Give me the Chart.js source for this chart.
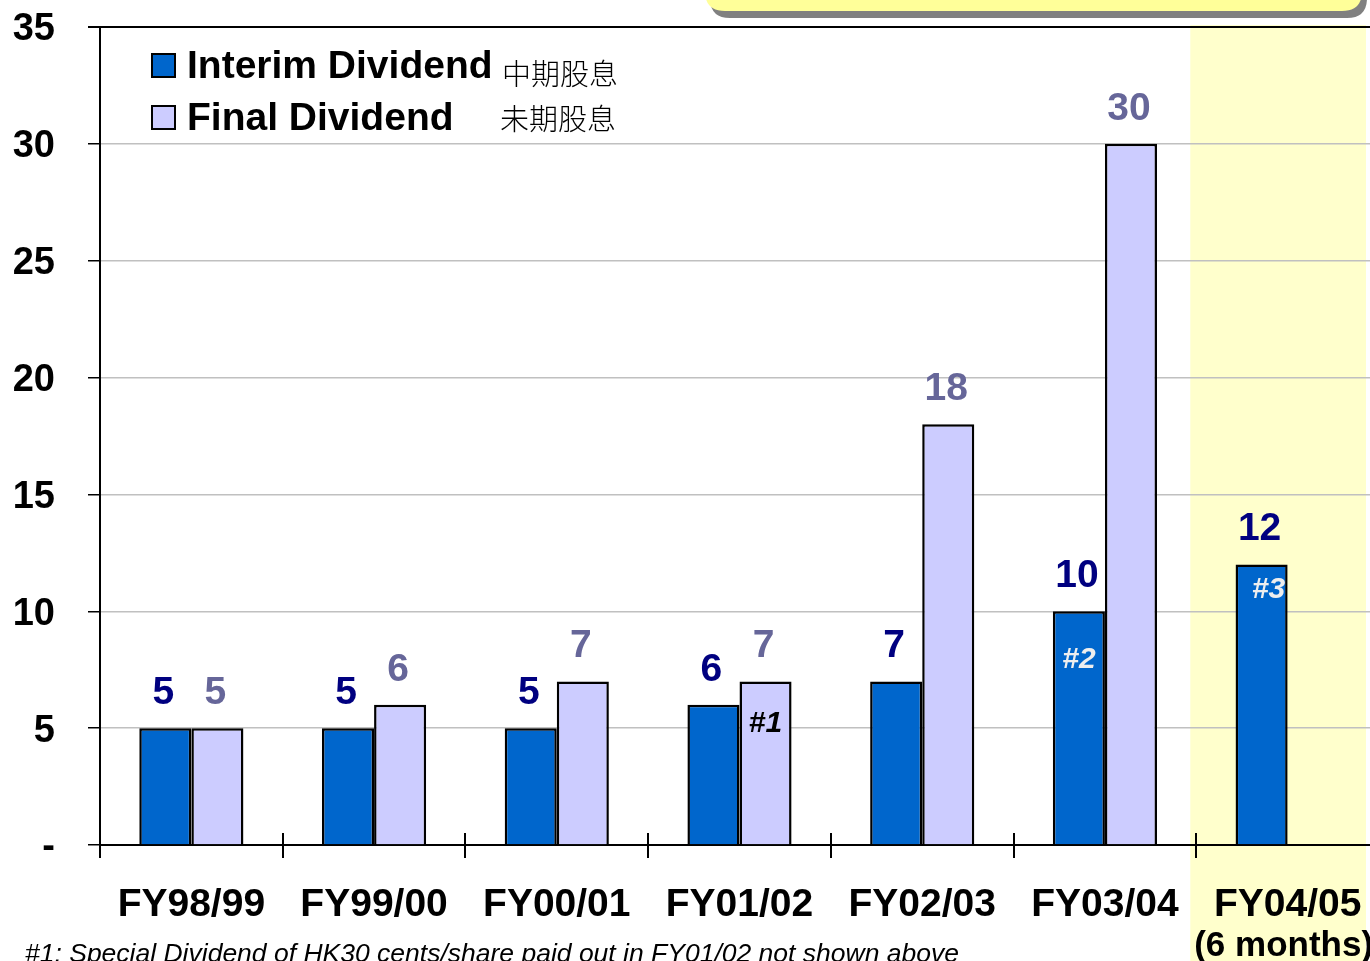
<!DOCTYPE html>
<html lang="en">
<head>
  <meta charset="UTF-8" />
  <title>Dividend History</title>
  <style>
    html, body {
      margin: 0;
      padding: 0;
      background: white;
      overflow: hidden;
    }
    .chart-box {
      position: absolute;
      left: 0;
      top: 0;
      width: 1380px;
      height: 961px;
    }
  </style>
  <script src="https://cdn.jsdelivr.net/npm/chart.js"></script>
</head>
<body>
  <div class="chart-box">
    <canvas id="dividendChart" width="1380" height="961"></canvas>
  </div>

  <script>
    // chart data
    const years = ["FY98/99", "FY99/00", "FY00/01", "FY01/02", "FY02/03", "FY03/04", "FY04/05"];
    const yearSubLabels = [null, null, null, null, null, null, "(6 months)"];
    const interimDividend = [5, 5, 5, 6, 7, 10, 12];
    const finalDividend = [5, 6, 7, 7, 18, 30, null];
    const interimNotes = [null, null, null, null, null, "#2", "#3"];
    const finalNotes = [null, null, null, "#1", null, null, null];
    const seriesNames = ["Interim Dividend", "Final Dividend"];
    const seriesNamesZh = ["中期股息", "未期股息"];
    const footnote = "#1: Special Dividend of HK30 cents/share paid out in FY01/02 not shown above";

    const FONT = "'Liberation Sans', Arial, sans-serif";
    const CJK = "'Noto Sans CJK TC', 'Noto Sans CJK SC', sans-serif";

    // where the notes sit inside their bars
    const noteOffset = { "#1": [0, 42], "#2": [0, 48], "#3": [7, 25] };

    const decorPlugin = {
      id: "decor",
      beforeDraw(chart) {
        const ctx = chart.ctx;
        const x = chart.scales.x;
        const step = x.width / years.length;
        // pale yellow band behind the half-year column
        const left = x.getPixelForValue(6) - step / 2 - 6;
        ctx.save();
        ctx.fillStyle = "#FFFFCC";
        ctx.fillRect(left, chart.chartArea.top - 2, 1366 - left, chart.height);
        ctx.restore();
      },
      afterDatasetsDraw(chart) {
        const ctx = chart.ctx;
        const noteSets = [interimNotes, finalNotes];
        const labelColors = ["#000080", "#666699"];
        const noteColors = ["#EEEEEE", "#000000"];
        ctx.save();
        ctx.textAlign = "center";
        ctx.textBaseline = "middle";
        chart.data.datasets.forEach((ds, di) => {
          const meta = chart.getDatasetMeta(di);
          meta.data.forEach((bar, i) => {
            const v = ds.data[i];
            if (v === null || v === undefined) return;
            ctx.font = "bold 39px " + FONT;
            ctx.fillStyle = labelColors[di];
            ctx.fillText(String(v), bar.x - 2, bar.y - 35);
            const note = noteSets[di][i];
            if (note) {
              const off = noteOffset[note] || [0, 40];
              ctx.font = "italic bold 30px " + FONT;
              ctx.fillStyle = noteColors[di];
              ctx.fillText(note, bar.x + off[0], bar.y + off[1]);
            }
          });
        });
        ctx.restore();
      },
      afterDraw(chart) {
        const ctx = chart.ctx;
        const x = chart.scales.x;
        const area = chart.chartArea;
        const step = x.width / years.length;
        ctx.save();

        // inner half of the category tick marks
        ctx.strokeStyle = "black";
        ctx.lineWidth = 2;
        for (let i = 0; i <= years.length; i++) {
          const px = Math.round(x.left + i * step);
          ctx.beginPath();
          ctx.moveTo(px, area.bottom - 12);
          ctx.lineTo(px, area.bottom);
          ctx.stroke();
        }

        // second line under a category label
        ctx.fillStyle = "black";
        ctx.textAlign = "center";
        ctx.textBaseline = "middle";
        ctx.font = "bold 35px " + FONT;
        yearSubLabels.forEach((s, i) => {
          if (s) ctx.fillText(s, x.getPixelForValue(i) - 4, area.bottom + 101);
        });

        // legend
        const rows = [66, 118];
        const zhX = [502, 500];
        const zhY = [74, 119];
        chart.data.datasets.forEach((ds, i) => {
          ctx.fillStyle = ds.backgroundColor;
          ctx.fillRect(152, rows[i] - 12, 23, 23);
          ctx.strokeStyle = "black";
          ctx.lineWidth = 2;
          ctx.strokeRect(152, rows[i] - 12, 23, 23);
          ctx.fillStyle = "black";
          ctx.textAlign = "left";
          ctx.textBaseline = "middle";
          ctx.font = "bold 39px " + FONT;
          ctx.fillText(seriesNames[i], 187, rows[i] + 1);
          ctx.font = "300 29px " + CJK;
          ctx.fillText(seriesNamesZh[i], zhX[i], zhY[i]);
        });

        // footnote
        ctx.font = "italic 26.5px " + FONT;
        ctx.fillStyle = "black";
        ctx.textAlign = "left";
        ctx.textBaseline = "middle";
        ctx.fillText(footnote, 25, 955);

        // callout box peeking in at the top
        function callout(dx, dy, color) {
          const l = 705 + dx, r = 1362 + dx, b = 11 + dy, rad = 20;
          ctx.beginPath();
          ctx.moveTo(l, -40);
          ctx.lineTo(l, b - rad);
          ctx.quadraticCurveTo(l, b, l + rad, b);
          ctx.lineTo(r - rad, b);
          ctx.quadraticCurveTo(r, b, r, b - rad);
          ctx.lineTo(r, -40);
          ctx.closePath();
          ctx.fillStyle = color;
          ctx.fill();
        }
        callout(5, 7, "#808080");
        callout(0, 0, "#FFFF99");

        ctx.restore();
      }
    };

    const ctx = document.getElementById("dividendChart").getContext("2d");
    new Chart(ctx, {
      type: "bar",
      data: {
        labels: years,
        datasets: [
          {
            label: seriesNames[0],
            data: interimDividend,
            backgroundColor: "#0066CC",
            borderColor: "black",
            borderWidth: 2.5,
            borderSkipped: "bottom"
          },
          {
            label: seriesNames[1],
            data: finalDividend,
            backgroundColor: "#CCCCFF",
            borderColor: "black",
            borderWidth: 2.5,
            borderSkipped: "bottom"
          }
        ]
      },
      options: {
        responsive: false,
        animation: false,
        layout: { padding: { top: 27, right: 1, left: 0, bottom: 0 } },
        datasets: {
          bar: { barPercentage: 1, categoryPercentage: 0.57 }
        },
        plugins: {
          legend: { display: false },
          tooltip: { enabled: false }
        },
        scales: {
          x: {
            offset: true,
            grid: {
              offset: true,
              drawOnChartArea: false,
              color: "black",
              lineWidth: 2,
              tickLength: 13
            },
            border: { color: "black", width: 2 },
            ticks: {
              color: "black",
              padding: 27,
              maxRotation: 0,
              autoSkip: false,
              font: { family: FONT, size: 39, weight: "bold", lineHeight: 1.05 }
            },
            afterFit(scale) {
              scale.height = 116;
              scale.paddingLeft = 0;
              scale.paddingRight = 0;
            }
          },
          y: {
            min: 0,
            max: 35,
            grid: {
              color: c => c.tick.value === 35 ? "black" : "#C0C0C0",
              lineWidth: c => c.tick.value === 35 ? 2 : 1.5,
              tickColor: "black",
              tickLength: 12
            },
            border: { color: "black", width: 2 },
            ticks: {
              stepSize: 5,
              color: "black",
              padding: 33,
              labelOffset: 3,
              font: { family: FONT, size: 38, weight: "bold" },
              callback: v => v === 0 ? "-" : v
            },
            afterFit(scale) {
              scale.width = 100;
              scale.paddingTop = 0;
              scale.paddingBottom = 0;
            }
          }
        }
      },
      plugins: [decorPlugin]
    });
  </script>
</body>
</html>
